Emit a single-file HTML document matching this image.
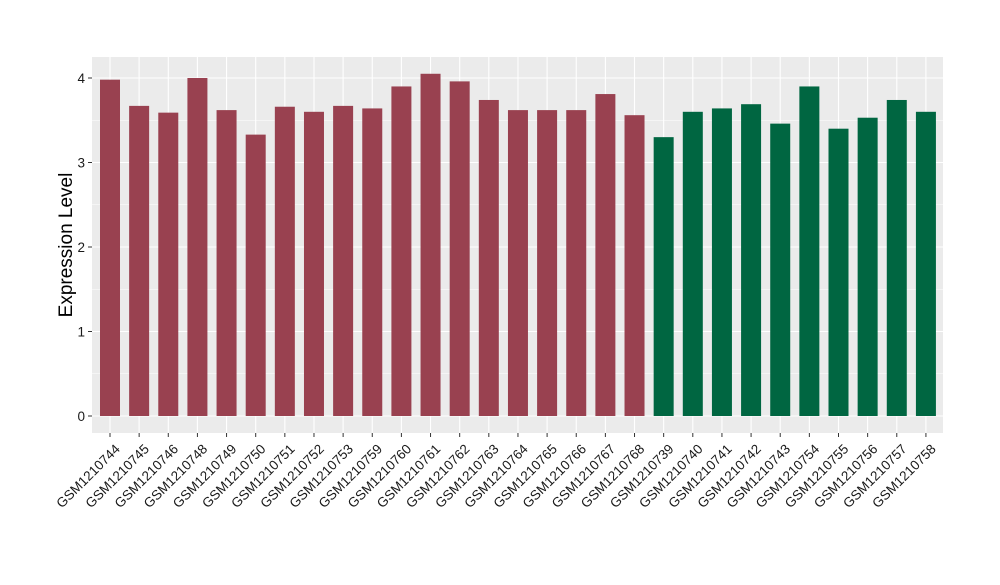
<!DOCTYPE html>
<html><head><meta charset="utf-8"><style>
body{margin:0;background:#fff;font-family:"Liberation Sans",sans-serif}
</style></head><body>
<svg width="1000" height="580" id="chart">
<rect x="92" y="57" width="851" height="376" fill="#ebebeb"/>
<g id="grid"></g><g id="bars"></g><g id="axes"></g>
<text transform="translate(72,245) rotate(-90)" text-anchor="middle" font-size="19" fill="#000">Expression Level</text>
</svg>
<script>
const categories=["GSM1210744","GSM1210745","GSM1210746","GSM1210748","GSM1210749","GSM1210750","GSM1210751","GSM1210752","GSM1210753","GSM1210759","GSM1210760","GSM1210761","GSM1210762","GSM1210763","GSM1210764","GSM1210765","GSM1210766","GSM1210767","GSM1210768","GSM1210739","GSM1210740","GSM1210741","GSM1210742","GSM1210743","GSM1210754","GSM1210755","GSM1210756","GSM1210757","GSM1210758"];
const values=[3.98,3.67,3.59,4.00,3.62,3.33,3.66,3.60,3.67,3.64,3.90,4.05,3.96,3.74,3.62,3.62,3.62,3.81,3.56,3.30,3.60,3.64,3.69,3.46,3.90,3.40,3.53,3.74,3.60];
const groups=["a","a","a","a","a","a","a","a","a","a","a","a","a","a","a","a","a","a","a","b","b","b","b","b","b","b","b","b","b"];
const yTicks=[0,1,2,3,4];
const NS="http://www.w3.org/2000/svg";
const y=v=>416-v*84.5;
const x=i=>110+i*29.14;
const grid=document.getElementById('grid'),bars=document.getElementById('bars'),axes=document.getElementById('axes');
function mk(t,a,p){const e=document.createElementNS(NS,t);for(const k in a)e.setAttribute(k,a[k]);p.appendChild(e);return e;}
for(let v=-0.5;v<=4.5;v+=0.5){const yy=y(v);if(yy<57||yy>433)continue;
 const l=mk('line',{x1:92,x2:943,y1:yy,y2:yy,stroke:'#fff','stroke-width':v%1===0?1.1:0.5},grid);
 
 }
categories.forEach((c,i)=>{
 const g=mk('line',{x1:x(i),x2:x(i),y1:57,y2:433,stroke:'#fff','stroke-width':1.1},grid);
 
 
 const b=mk('rect',{x:x(i)-10,y:y(values[i]),width:20,height:y(0)-y(values[i]),fill:groups[i]==='a'?'#994150':'#006641'},bars);
 
 
 const tk=mk('line',{x1:x(i),x2:x(i),y1:433,y2:437,stroke:'#333'},axes);
 
 
 const t=mk('text',{transform:`translate(${x(i)+4},${443}) rotate(-45)`,'text-anchor':'end','font-size':'13.5',fill:'#1a1a1a','dominant-baseline':'hanging'},axes);
 t.textContent=c;
 
 
});
yTicks.forEach(v=>{
 const tk=mk('line',{x1:88,x2:92,y1:y(v),y2:y(v),stroke:'#333'},axes);
 
 
 const t=mk('text',{x:85,y:y(v)+5,'text-anchor':'end','font-size':'13.5',fill:'#1a1a1a'},axes);
 t.textContent=v;
 
 
});
</script>
</body></html>
